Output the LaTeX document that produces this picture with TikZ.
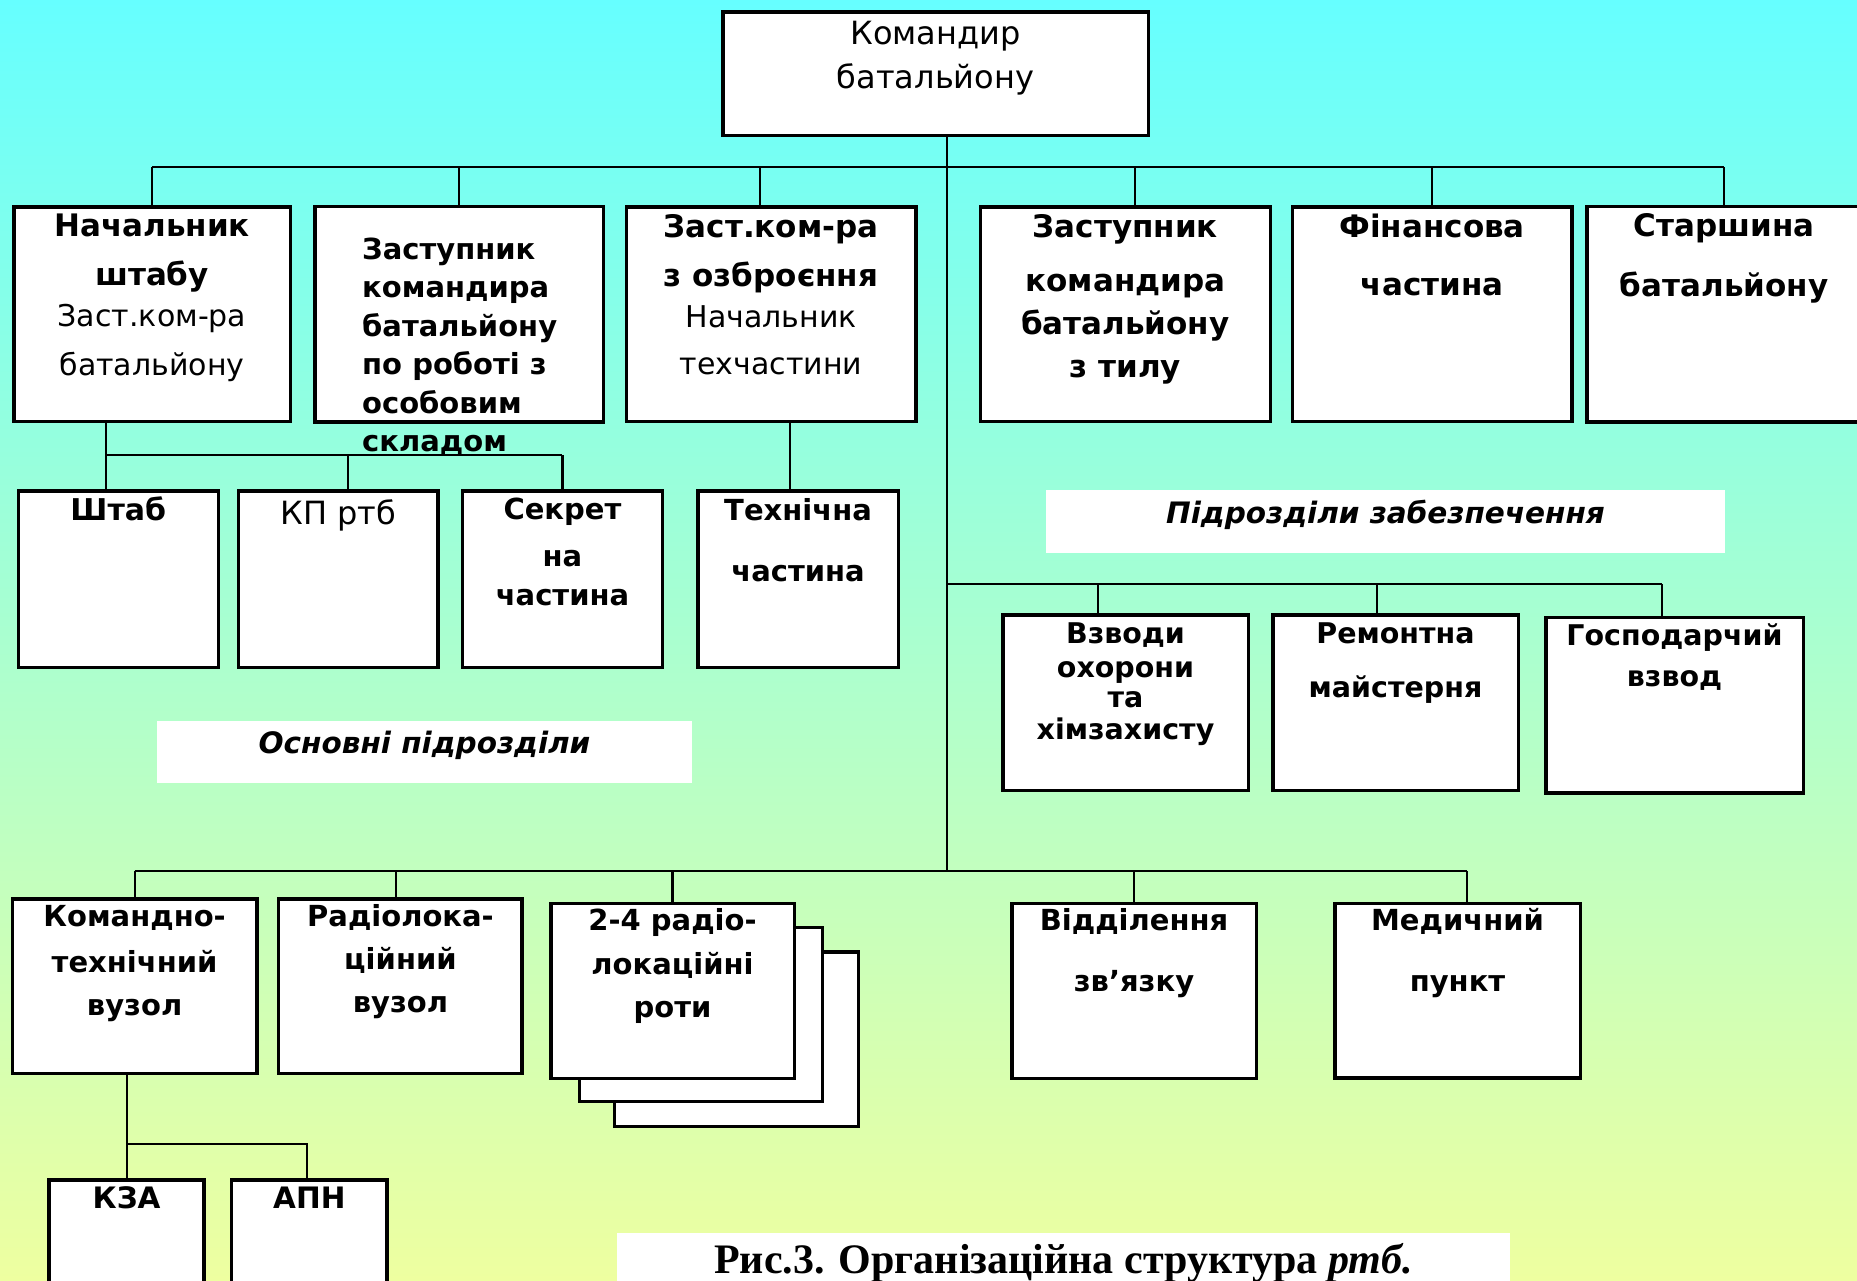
\documentclass[tikz,border=0pt]{standalone}
\usepackage{fontspec}
\setmainfont{DejaVu Sans}
\newfontfamily\capfont{Liberation Serif}
\usepackage{tikz}
\usetikzlibrary{positioning}
\definecolor{bgtop}{RGB}{102,255,255}
\definecolor{bgmid}{RGB}{165,255,210}
\definecolor{bgbot}{RGB}{238,255,160}
\def\bsz#1#2{\fontsize{#1}{#2}\selectfont\bfseries}
\def\rsz#1#2{\fontsize{#1}{#2}\selectfont\mdseries}

\begin{document}
\begin{tikzpicture}[x=1pt,y=-1pt]
\tikzstyle{unit}=[rectangle, draw=black, line width=3.5pt, fill=white, inner sep=0pt]
\tikzstyle{connect}=[line width=2.2pt]
\tikzstyle{txt}=[anchor=north, inner sep=0pt, align=center]
\tikzstyle{tag}=[rectangle, fill=white, inner sep=0pt]

\useasboundingbox (0,0) rectangle (1857,1280);
\clip (0,0) rectangle (1857,1280);
\shade[top color=bgtop, middle color=bgmid, bottom color=bgbot] (0,0) rectangle (1857,1280);

  \node[unit, minimum width=425.5pt, minimum height=123.5pt] (kom) at (935.5,73.5) [label={[txt, font=\rsz{32}{44}, yshift=-11pt]north:{Командир\\батальйону}}] {};

  \node[unit, minimum width=276.5pt, minimum height=214.5pt] (ns) at (152,314) [label={[txt, font=\bsz{31}{45}, yshift=-9pt]north:{Начальник\\[4pt]штабу\\[-4pt]{\rsz{30}{45}Заст.ком-ра}\\[4pt]{\rsz{30}{45}батальйону}}}] {};
  \node[unit, minimum width=288.5pt, minimum height=215.5pt, right=21pt of ns] (zvo) [label={[txt, anchor=north west, align=left, font=\bsz{29}{38.5}, xshift=49pt, yshift=-33pt]north west:{Заступник\\командира\\батальйону\\по роботі з\\особовим\\складом}}] {};
  \node[unit, minimum width=289.6pt, minimum height=214.5pt, right=19.5pt of zvo] (zo) [label={[txt, font=\bsz{31}{45}, yshift=-9pt]north:{Заст.ком-ра\\[4pt]з озброєння\\[-4pt]{\rsz{30}{45}Начальник}\\[2pt]{\rsz{30}{45}техчастини}}}] {};
  \node[unit, minimum width=290pt, minimum height=214.5pt, right=61pt of zo] (zt) [label={[txt, font=\bsz{31}{43}, yshift=-9pt]north:{Заступник\\[11pt]командира\\батальйону\\з тилу}}] {};
  \node[unit, minimum width=279.4pt, minimum height=214.5pt, right=18.6pt of zt] (fin) [label={[txt, font=\bsz{31}{58}, yshift=-9pt]north:{Фінансова\\частина}}] {};
  \node[unit, minimum width=274.5pt, minimum height=215.5pt, right=11.5pt of fin] (star) [label={[txt, font=\bsz{31}{60}, yshift=-9pt]north:{Старшина\\батальйону}}] {};

  \node[unit, minimum width=200pt, minimum height=176.5pt] (shtab) at (118.3,579) [label={[txt, font=\bsz{30}{44}, yshift=-8pt]north:{Штаб}}] {};
  \node[unit, minimum width=199.3pt, minimum height=176.5pt, right=16.7pt of shtab] (kp) [label={[txt, font=\rsz{32}{44}, yshift=-10.5pt]north:{КП ртб}}] {};
  \node[unit, minimum width=199.7pt, minimum height=176.5pt, right=21.3pt of kp] (sekr) [label={[txt, font=\bsz{29}{43}, yshift=-9pt]north:{Секрет\\[4pt]на\\[-4pt]частина}}] {};
  \node[unit, minimum width=200.5pt, minimum height=176.5pt, right=32pt of sekr] (tch) [label={[txt, font=\bsz{29}{61}, yshift=-9pt]north:{Технічна\\частина}}] {};

  \node[tag, minimum width=535pt, minimum height=62pt] (osn) at (424.5,752) [label={[font=\itshape\bsz{29.5}{36}, yshift=7pt]center:{Основні підрозділи}}] {};
  \node[tag, minimum width=679pt, minimum height=63pt] (zab) at (1385.5,521.5) [label={[font=\itshape\bsz{29.5}{36}, yshift=7pt]center:{Підрозділи забезпечення}}] {};

  \node[unit, minimum width=245.5pt, minimum height=175.5pt] (vzv) at (1125.5,702.5) [label={[txt, font=\bsz{28.5}{32}, yshift=-9.5pt]north:{Взводи\\[2pt]охорони\\[-2pt]та\\хімзахисту}}] {};
  \node[unit, minimum width=245.5pt, minimum height=175.5pt, right=21pt of vzv] (rem) [label={[txt, font=\bsz{28.5}{54}, yshift=-9.5pt]north:{Ремонтна\\майстерня}}] {};
  \node[unit, minimum width=257.5pt, minimum height=175.8pt] (gosp) at (1674.5,705.3) [label={[txt, font=\bsz{28.5}{41}, yshift=-8pt]north:{Господарчий\\взвод}}] {};

  \node[unit, minimum width=244.4pt, minimum height=174.5pt] (ktv) at (134.6,986) [label={[txt, font=\bsz{29}{44}, yshift=-8.5pt]north:{Командно-\\[2pt]технічний\\[-1pt]вузол}}] {};
  \node[unit, minimum width=243.5pt, minimum height=174.5pt, right=18.4pt of ktv] (rlv) [label={[txt, font=\bsz{29}{43}, yshift=-7.5pt]north:{Радіолока-\\ційний\\вузол}}] {};
  \node[unit, minimum width=243.8pt, minimum height=174.5pt] (rota3) at (736.4,1039) {};
  \node[unit, minimum width=243pt, minimum height=173.8pt] (rota2) at (701.2,1014.4) {};
  \node[unit, minimum width=243.5pt, minimum height=174.8pt] (rota) at (672.5,990.9) [label={[txt, font=\bsz{29}{43.5}, yshift=-6.5pt]north:{2-4 радіо-\\локаційні\\роти}}] {};
  \node[unit, minimum width=244.5pt, minimum height=174.8pt] (zvz) at (1134,990.9) [label={[txt, font=\bsz{29}{61}, yshift=-6.5pt]north:{Відділення\\зв’язку}}] {};
  \node[unit, minimum width=245.5pt, minimum height=174.5pt, right=75pt of zvz] (med) [label={[txt, font=\bsz{29}{61}, yshift=-6.5pt]north:{Медичний\\пункт}}] {};

  \node[unit, minimum width=155pt, minimum height=120pt] (kza) at (126.6,1240) [label={[txt, font=\bsz{29.5}{44}, yshift=-8.5pt]north:{КЗА}}] {};
  \node[unit, minimum width=155.5pt, minimum height=120pt, right=24pt of kza] (apn) [label={[txt, font=\bsz{29.5}{44}, yshift=-8.5pt]north:{АПН}}] {};

  \node[tag, minimum width=893pt, minimum height=60pt] (cap) at (1063.5,1263) [label={[font=\capfont\bsz{42}{50}]center:{Рис.3. Організаційна структура {\itshape ртб.}}}] {};

  \coordinate (trunk) at (947,0);
  \coordinate (bus1) at (0,167);
  \coordinate (bus2) at (0,455);
  \coordinate (bus3) at (0,584);
  \coordinate (bus4) at (0,871);
  \coordinate (bus5) at (0,1144);
  \coordinate (xzo) at (760,0);
  \coordinate (xzt) at (1134.6,0);
  \coordinate (xns) at (105.6,0);
  \coordinate (xkp) at (348,0);
  \coordinate (xtch) at (790,0);
  \coordinate (xvzv) at (1098,0);
  \coordinate (xrem) at (1377,0);
  \coordinate (xgosp) at (1662,0);
  \coordinate (xrlv) at (396,0);
  \coordinate (xmed) at (1467,0);
  \coordinate (xapn) at (306.6,0);

  \draw[connect] (kom.south -| trunk) -- (trunk |- bus4);
  \draw[connect] (ns.north |- bus1) -- (star.north |- bus1);
  \foreach \n in {ns,zvo,fin,star}
    \path (\n.north |- bus1) edge [connect] (\n.north);
  \path (xzo |- bus1) edge [connect] (xzo |- zo.north);
  \path (xzt |- bus1) edge [connect] (xzt |- zt.north);

  \draw[connect] (xns |- ns.south) -- (xns |- shtab.north);
  \draw[connect] (xns |- bus2) -- (sekr.north |- bus2);
  \path (xkp |- bus2) edge [connect] (xkp |- kp.north);
  \path (sekr.north |- bus2) edge [connect] (sekr.north);
  \path (xtch |- zo.south) edge [connect] (xtch |- tch.north);

  \draw[connect] (trunk |- bus3) -- (xgosp |- bus3);
  \foreach \n/\x in {vzv/xvzv,rem/xrem,gosp/xgosp}
    \path (\x |- bus3) edge [connect] (\x |- \n.north);

  \draw[connect] (ktv.north |- bus4) -- (xmed |- bus4);
  \path (ktv.north |- bus4) edge [connect] (ktv.north);
  \path (xrlv |- bus4) edge [connect] (xrlv |- rlv.north);
  \path (rota.north |- bus4) edge [connect] (rota.north);
  \path (zvz.north |- bus4) edge [connect] (zvz.north);
  \path (xmed |- bus4) edge [connect] (xmed |- med.north);

  \draw[connect] (kza.north |- ktv.south) -- (kza.north);
  \draw[connect] (kza.north |- bus5) -- (xapn |- bus5) -- (xapn |- apn.north);
\end{tikzpicture}
\end{document}
